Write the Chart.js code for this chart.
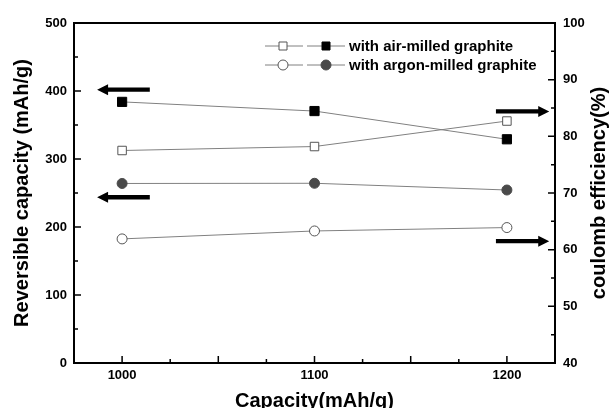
<!DOCTYPE html>
<html><head><meta charset="utf-8">
<script src="https://cdn.jsdelivr.net/npm/chart.js@4.4.1/dist/chart.umd.min.js"></script>
<style>html,body{margin:0;padding:0;background:#fff;} #wrap{width:610px;height:408px;}</style>
</head><body><div id="wrap"><canvas id="c" width="610" height="408"></canvas></div>
<script>
const capacities = [1000, 1100, 1200];
const airCapacity = [384, 370.5, 329];
const airEfficiency = [77.5, 78.2, 82.7];
const argonCapacity = [264, 264.3, 254.4];
const argonEfficiency = [61.9, 63.3, 63.9];
const xTickLabels = ['1000', '1100', '1200'];
const seriesNames = ['with air-milled graphite', 'with argon-milled graphite'];
const titleX = 'Capacity(mAh/g)';
const titleY = 'Reversible capacity (mAh/g)';
const titleY2 = 'coulomb efficiency(%)';

const FONT = '"Liberation Sans", Arial, Helvetica, sans-serif';
const pts = arr => capacities.map((c, i) => ({x: c, y: arr[i]}));

const arrows = [
  {axis: 'y', x0: 1014.4, x1: 987, v: 402},
  {axis: 'y', x0: 1014.4, x1: 987, v: 243.7},
  {axis: 'y2', x0: 1194.3, x1: 1222, v: 84.4},
  {axis: 'y2', x0: 1194.3, x1: 1222, v: 61.5}
];

const deco = {
  id: 'deco',
  afterDraw(chart) {
    const ctx = chart.ctx, a = chart.chartArea;
    const sx = chart.scales.x, sy = chart.scales.y, sy2 = chart.scales.y2;
    ctx.save();
    // frame
    ctx.strokeStyle = '#000'; ctx.lineWidth = 2;
    ctx.strokeRect(a.left, a.top, a.right - a.left, a.bottom - a.top);
    // inward ticks
    ctx.lineWidth = 1.5;
    ctx.beginPath();
    for (let v = 1000; v <= 1200; v += 25) {
      const px = sx.getPixelForValue(v);
      const len = (v % 50 === 0) ? 7 : 4;
      ctx.moveTo(px, a.bottom); ctx.lineTo(px, a.bottom - len);
    }
    for (let v = 0; v <= 500; v += 50) {
      const py = sy.getPixelForValue(v);
      const len = (v % 100 === 0) ? 7 : 4;
      ctx.moveTo(a.left, py); ctx.lineTo(a.left + len, py);
    }
    for (let v = 40; v <= 100; v += 5) {
      const py = sy2.getPixelForValue(v);
      const len = (v % 10 === 0) ? 7 : 4;
      ctx.moveTo(a.right, py); ctx.lineTo(a.right - len, py);
    }
    ctx.stroke();
    // arrows
    ctx.fillStyle = '#000';
    arrows.forEach(ar => {
      const s = chart.scales[ar.axis];
      const y = s.getPixelForValue(ar.v);
      const xa = sx.getPixelForValue(ar.x0), xb = sx.getPixelForValue(ar.x1);
      const dir = Math.sign(xb - xa);
      const hl = 11, hh = 5.5, th = 2.2;
      const xh = xb - dir * hl;
      ctx.beginPath();
      ctx.moveTo(xa, y - th); ctx.lineTo(xh, y - th); ctx.lineTo(xh, y - hh);
      ctx.lineTo(xb, y); ctx.lineTo(xh, y + hh); ctx.lineTo(xh, y + th);
      ctx.lineTo(xa, y + th); ctx.closePath(); ctx.fill();
    });
    // legend
    const rows = [
      {y: 46, rect: true, fill: '#000'},
      {y: 65, rect: false, fill: '#4a4a4a'}
    ];
    rows.forEach((r, i) => {
      ctx.strokeStyle = '#808080'; ctx.lineWidth = 1;
      ctx.beginPath();
      ctx.moveTo(265, r.y); ctx.lineTo(303, r.y);
      ctx.moveTo(307, r.y); ctx.lineTo(345, r.y);
      ctx.stroke();
      ctx.fillStyle = '#fff'; ctx.strokeStyle = '#555'; ctx.lineWidth = 1;
      ctx.beginPath();
      if (r.rect) { ctx.rect(279, r.y - 4, 8, 8); } else { ctx.arc(283, r.y, 5, 0, Math.PI * 2); }
      ctx.fill(); ctx.stroke();
      ctx.fillStyle = r.fill; ctx.strokeStyle = r.fill;
      ctx.beginPath();
      if (r.rect) { ctx.rect(322, r.y - 4, 8, 8); } else { ctx.arc(326, r.y, 5, 0, Math.PI * 2); }
      ctx.fill(); ctx.stroke();
      ctx.fillStyle = '#000';
      ctx.font = 'bold 15px ' + FONT;
      ctx.textAlign = 'left'; ctx.textBaseline = 'middle';
      ctx.fillText(seriesNames[i], 349, r.y + 1);
    });
    // right title
    ctx.save();
    ctx.translate(599, (a.top + a.bottom) / 2);
    ctx.rotate(-Math.PI / 2);
    ctx.font = 'bold 20px ' + FONT;
    ctx.fillStyle = '#000';
    ctx.textAlign = 'center'; ctx.textBaseline = 'middle';
    ctx.fillText(titleY2, 0, 0);
    ctx.restore();
    ctx.restore();
  }
};

const tickFont = {family: FONT, size: 13, weight: 'bold'};
const common = {borderColor: '#808080', borderWidth: 1, tension: 0, pointBorderWidth: 1, pointHoverRadius: 6};

new Chart(document.getElementById('c'), {
  type: 'line',
  data: {
    datasets: [
      Object.assign({data: pts(airEfficiency), yAxisID: 'y2', pointStyle: 'rect', pointRadius: 6,
        pointBackgroundColor: '#fff', pointBorderColor: '#555'}, common),
      Object.assign({data: pts(airCapacity), yAxisID: 'y', pointStyle: 'rect', pointRadius: 6.5,
        pointBackgroundColor: '#000', pointBorderColor: '#000'}, common),
      Object.assign({data: pts(argonEfficiency), yAxisID: 'y2', pointStyle: 'circle', pointRadius: 5,
        pointBackgroundColor: '#fff', pointBorderColor: '#555'}, common),
      Object.assign({data: pts(argonCapacity), yAxisID: 'y', pointStyle: 'circle', pointRadius: 5,
        pointBackgroundColor: '#4a4a4a', pointBorderColor: '#4a4a4a'}, common)
    ]
  },
  options: {
    responsive: false,
    animation: false,
    devicePixelRatio: 1,
    layout: {padding: {top: 23, left: 0, right: 0, bottom: 0}},
    plugins: {legend: {display: false}, tooltip: {enabled: false}},
    scales: {
      x: {
        type: 'linear', min: 975, max: 1225,
        afterFit(s) { s.height = 45; },
        afterBuildTicks(s) { s.ticks = capacities.map(v => ({value: v})); },
        ticks: {callback: v => xTickLabels[capacities.indexOf(v)], padding: 5, color: '#000', font: tickFont, maxRotation: 0, autoSkip: false},
        grid: {display: false, drawTicks: false},
        border: {display: false},
        title: {display: true, text: titleX, color: '#000', padding: 0,
          font: {family: FONT, size: 20, weight: 'bold', lineHeight: 0.7}}
      },
      y: {
        position: 'left', min: 0, max: 500,
        afterFit(s) { s.width = 74; },
        ticks: {stepSize: 100, padding: 7, color: '#000', font: tickFont},
        grid: {display: false, drawTicks: false},
        border: {display: false},
        title: {display: true, text: titleY, color: '#000', padding: {top: 10, bottom: 0},
          font: {family: FONT, size: 20, weight: 'bold', lineHeight: 1.2}}
      },
      y2: {
        position: 'right', min: 40, max: 100,
        afterFit(s) { s.width = 55; },
        ticks: {stepSize: 10, padding: 8, color: '#000', font: tickFont},
        grid: {display: false, drawTicks: false},
        border: {display: false}
      }
    }
  },
  plugins: [deco]
});
</script>
</body></html>
